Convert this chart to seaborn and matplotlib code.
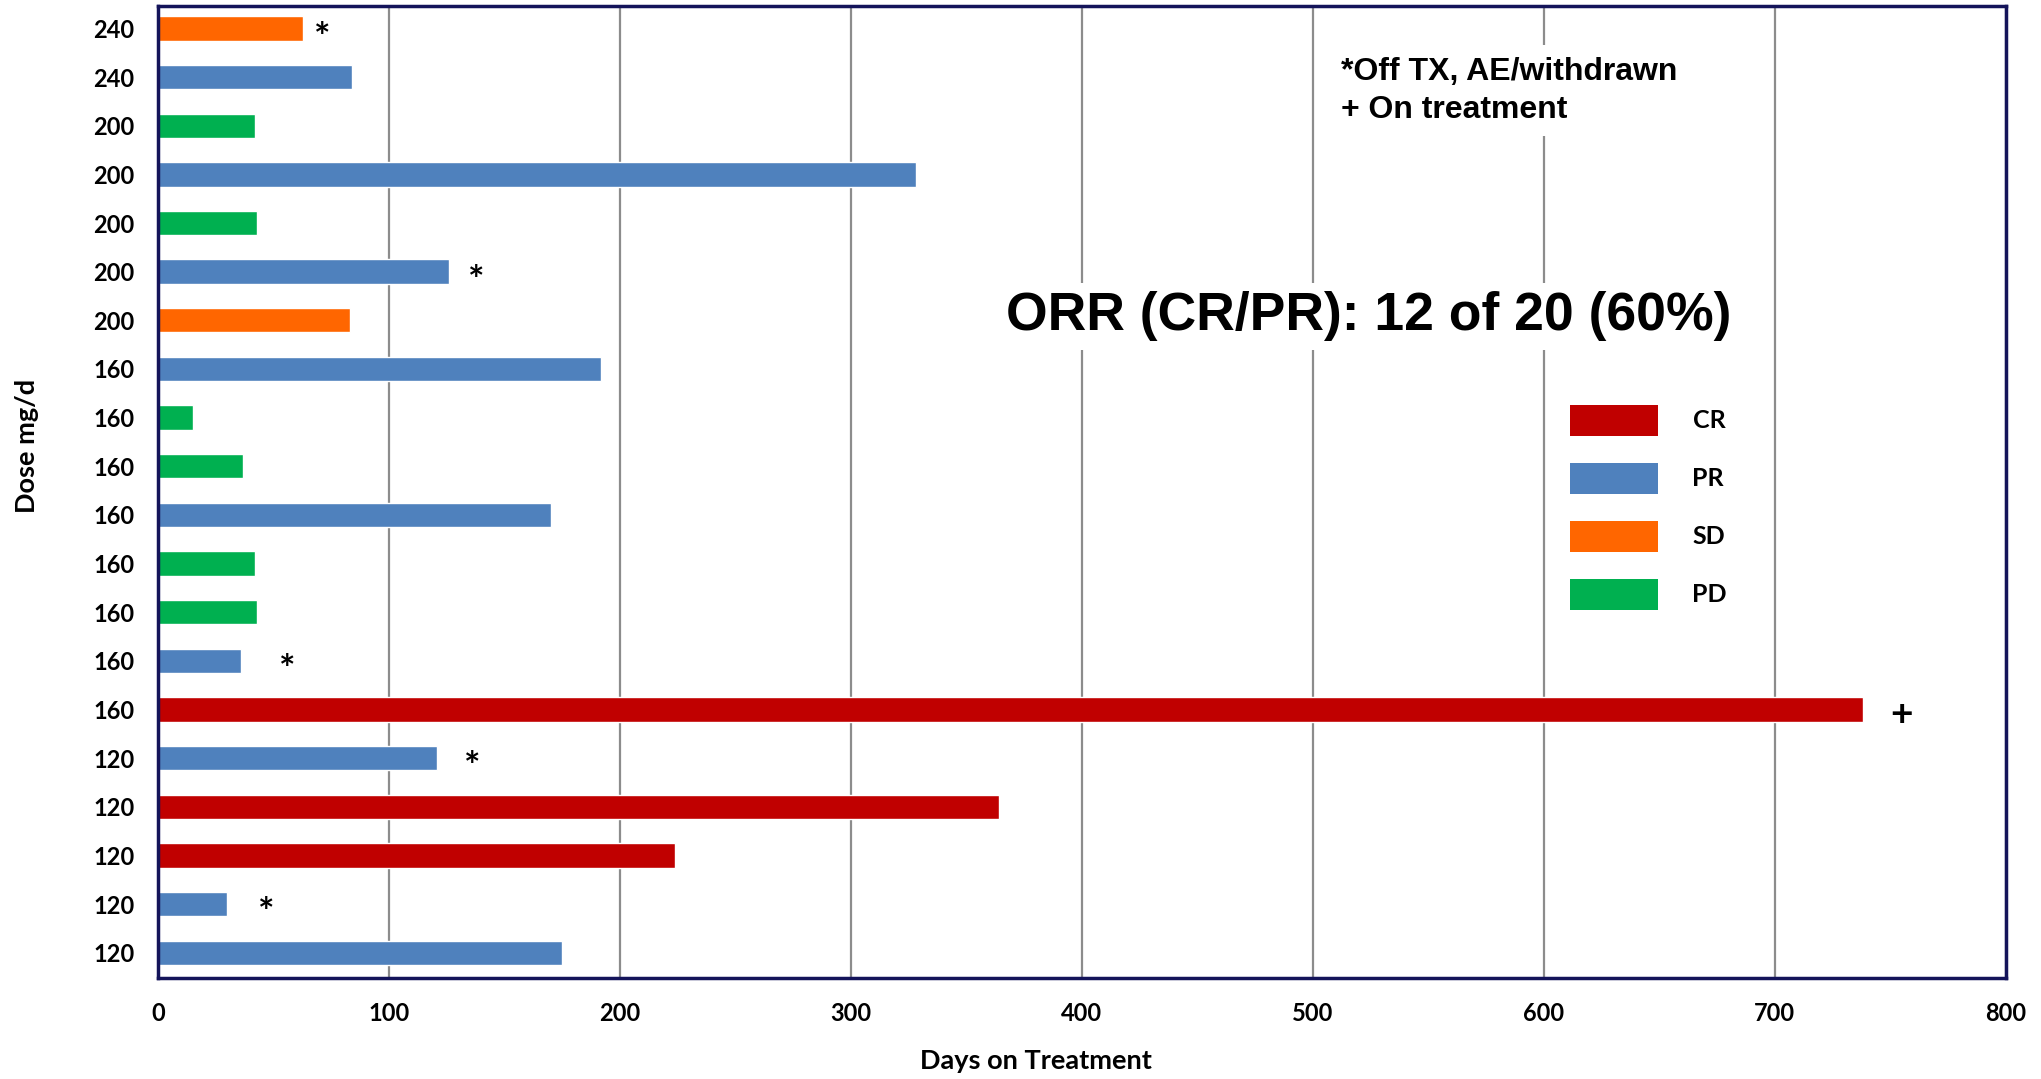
import numpy as np
import pandas as pd
import matplotlib
matplotlib.use("Agg")
import matplotlib.pyplot as plt
from matplotlib.patches import Patch
import seaborn as sns

# data, top row first
dose = [240, 240, 200, 200, 200, 200, 200, 160, 160, 160,
        160, 160, 160, 160, 160, 120, 120, 120, 120, 120]
days = [63, 84, 42, 328, 43, 126, 83, 192, 15, 37,
        170, 42, 43, 36, 738, 121, 364, 224, 30, 175]
resp = ["SD", "PR", "PD", "PR", "PD", "PR", "SD", "PR", "PD", "PD",
        "PR", "PD", "PD", "PR", "CR", "PR", "CR", "CR", "PR", "PR"]

# markers after bars (row, symbol, x in days)
note_rows = [0, 5, 13, 14, 15, 18]
note_marks = ["*", "*", "*", "+", "*", "*"]
note_x = [71, 138, 56, 755, 136, 47]

resp_order = ["CR", "PR", "SD", "PD"]
colors = {"CR": "#C00000", "PR": "#4F81BD", "SD": "#FF6600", "PD": "#00B050"}

df = pd.DataFrame({"row": [str(i) for i in range(len(days))],
                   "days": days, "resp": resp})

sns.set_style("white")
plt.rcParams["font.family"] = ["Lato", "DejaVu Sans"]
plt.rcParams["font.weight"] = "bold"
plt.rcParams["text.color"] = "black"
plt.rcParams["axes.labelcolor"] = "black"
plt.rcParams["xtick.color"] = "black"
plt.rcParams["ytick.color"] = "black"

fig = plt.figure(figsize=(20.41, 10.79), dpi=100)
ax = fig.add_axes([0.0774, 0.0936, 0.9054, 0.9008])

sns.barplot(data=df, y="row", x="days", hue="resp", palette=colors,
            orient="h", dodge=False, width=0.5, legend=False,
            saturation=1, ax=ax)

ax.set_xlim(0, 800)
ax.set_ylim(19.52, -0.46)
ax.set_xticks(np.arange(0, 801, 100))
ax.set_yticks(range(len(dose)))
ax.set_yticklabels([str(d) for d in dose])
ax.tick_params(axis="both", length=0, labelsize=17, labelcolor="black")
ax.tick_params(axis="x", pad=17)
ax.tick_params(axis="y", pad=17)
for lab in ax.get_xticklabels() + ax.get_yticklabels():
    lab.set_fontweight("bold")

ax.grid(axis="x", color="#8c8c8c", linewidth=1.6)
ax.set_axisbelow(True)
for s in ax.spines.values():
    s.set_color("#14145a")
    s.set_linewidth(2.5)

ax.set_xlabel("Days on Treatment", fontsize=19.5, fontweight="bold", va="center")
ax.set_ylabel("Dose mg/d", fontsize=19.5, fontweight="bold", va="center")
ax.xaxis.set_label_coords(0.475, -0.085)
ax.yaxis.set_label_coords(-0.071, 0.547)

for r, m, x in zip(note_rows, note_marks, note_x):
    dy = 0.2 if m == "*" else 0.1
    ax.text(x, r + dy, m, fontsize=28, fontweight="bold", ha="center", va="center")

ax.text(0.640, 0.948, "*Off TX, AE/withdrawn\n+ On treatment",
        transform=ax.transAxes, family=["Liberation Sans", "DejaVu Sans"],
        fontsize=23, fontweight="bold", ha="left", va="top", linespacing=1.35,
        bbox=dict(facecolor="white", edgecolor="none", pad=8))

ax.text(0.459, 0.681, "ORR (CR/PR): 12 of 20 (60%)",
        transform=ax.transAxes, family=["Liberation Sans", "DejaVu Sans"],
        fontsize=38.5, fontweight="bold", ha="left", va="center",
        bbox=dict(facecolor="white", edgecolor="none", pad=6))

handles = [Patch(facecolor=colors[k], edgecolor="none") for k in resp_order]
leg = ax.legend(handles, resp_order, loc="upper left",
                bbox_to_anchor=(1570 / 2041, 1 - 405 / 1079),
                bbox_transform=fig.transFigure, frameon=False,
                fontsize=18, handlelength=3.5, handleheight=1.5,
                labelspacing=1.1, handletextpad=1.4, borderpad=0,
                borderaxespad=0)
for t in leg.get_texts():
    t.set_fontweight("bold")

fig.savefig("out.png", dpi=100)
